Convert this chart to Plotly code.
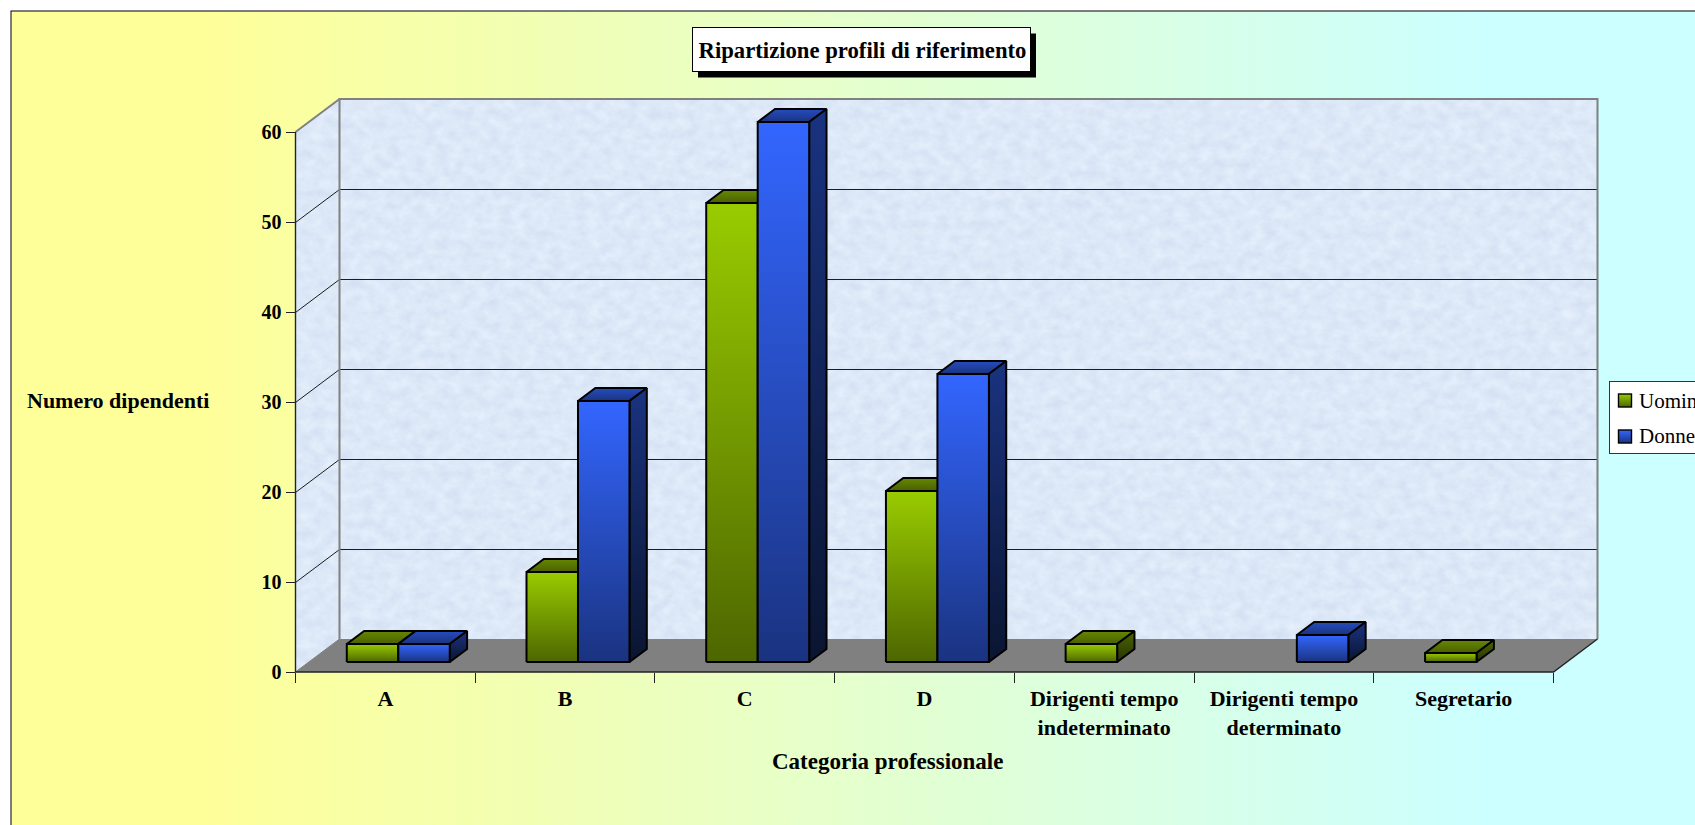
import base64
import plotly.graph_objects as go

# ---- data -------------------------------------------------------------
categories = ["A", "B", "C", "D", "Dirigenti tempo<br>indeterminato",
              "Dirigenti tempo<br>determinato", "Segretario"]
uomini = [2, 10, 51, 19, 2, None, 1]
donne = [2, 29, 60, 32, None, 3, None]
y_ticks = [0, 10, 20, 30, 40, 50, 60]
title_text = "Ripartizione profili di riferimento"
y_title = "Numero dipendenti"
x_title = "Categoria professionale"
series_names = ["Uomini", "Donne"]

# ---- page geometry (pixels) --------------------------------------------
W, H = 1695, 825
X0, X1 = 295.5, 1553.5      # front edge of the floor
Y0, Y60 = 672.0, 132.0      # value 0 / value 60 on the front axis
DPX, DPY = 44.0, 33.0       # depth of the box
N = len(categories)
CAT_PX = (X1 - X0) / N
VAL_PX = (Y0 - Y60) / 60.0
DX = DPX / CAT_PX           # depth expressed in axis units
DY = DPY / VAL_PX
XMAX = N + DX
YMAX = 60 + DY
GAP, BAR_W = 0.2112, 0.2865
D_FRONT, D_BACK = 0.303, 0.697


def px(v):
    return Y0 - v * VAL_PX


grid = ""
for v in y_ticks[1:-1]:
    y = px(v)
    grid += (f'<path d="M{X0},{y+0.5} L{X0+DPX},{y-DPY+0.5} L{X1+DPX},{y-DPY+0.5}" fill="none" '
             f'stroke="#1c1c1c" stroke-width="1"/>')

xl, xr, yb, yt = X0 + DPX, X1 + DPX, Y0 - DPY, px(60) - DPY
wall_clip = f"M{xl},{yb} L{xr},{yb} L{xr},{yt} L{xl},{yt} Z M{X0},{Y0} L{xl},{yb} L{xl},{yt} L{X0},{px(60)} Z"
TX0, TX1, TY0, TY1 = 692.5, 1030.5, 27.5, 71.5
LX, LY0, LY1 = 1609.5, 381.5, 453.5
svg = f'''<svg xmlns="http://www.w3.org/2000/svg" width="{W}" height="{H}" viewBox="0 0 {W} {H}">
<defs>
<linearGradient id="bg" gradientUnits="userSpaceOnUse" x1="200" y1="0" x2="1480" y2="0">
<stop offset="0" stop-color="#FFFF99"/><stop offset="1" stop-color="#CCFFFF"/></linearGradient>
<linearGradient id="g" x1="0" y1="0" x2="0" y2="1"><stop offset="0" stop-color="#99CC00"/><stop offset="1" stop-color="#4D6600"/></linearGradient>
<linearGradient id="b" x1="0" y1="0" x2="0" y2="1"><stop offset="0" stop-color="#3366FF"/><stop offset="1" stop-color="#1A3380"/></linearGradient>
<filter id="tex" x="0" y="0" width="100%" height="100%" color-interpolation-filters="sRGB">
<feTurbulence type="fractalNoise" baseFrequency="0.08 0.1" numOctaves="5" seed="7"/>
<feColorMatrix type="matrix" values="0.10 0 0 0 0.815  0.08 0 0 0 0.87  0.05 0 0 0 0.945  0 0 0 0 1"/>
</filter>
<clipPath id="wc"><path d="{wall_clip}"/></clipPath>
</defs>
<rect x="0" y="0" width="{W}" height="{H}" fill="#fff"/>
<rect x="11" y="11" width="{W+20}" height="{H+20}" fill="url(#bg)" stroke="#000" stroke-width="1"/>
<g clip-path="url(#wc)"><rect x="{X0}" y="{yt}" width="{xr-X0}" height="{Y0-yt}" fill="#DCE9F7" filter="url(#tex)"/></g>
<path d="M{X0},{Y0} L{X1},{Y0} L{xr},{yb} L{xl},{yb} Z" fill="#808080"/>
{grid}
<path d="M{xl},{yb} L{xl},{yt} L{xr},{yt} L{xr},{yb}" fill="none" stroke="#808080" stroke-width="2"/>
<path d="M{X0},{px(60)} L{xl},{yt}" fill="none" stroke="#808080" stroke-width="2"/>
<path d="M{X0},{Y0} L{xl},{yb}" fill="none" stroke="#808080" stroke-width="1"/>
<path d="M{X0},{px(60)} L{X0},{Y0} L{X1},{Y0} L{xr},{yb}" fill="none" stroke="#222" stroke-width="1.4"/>
<rect x="{TX0+5.5}" y="{TY0+6}" width="{TX1-TX0}" height="{TY1-TY0}" fill="#000"/>
<rect x="{TX0}" y="{TY0}" width="{TX1-TX0}" height="{TY1-TY0}" fill="#fff" stroke="#000" stroke-width="1"/>
<rect x="{LX}" y="{LY0}" width="200" height="{LY1-LY0}" fill="#fff" stroke="#333" stroke-width="1"/>
<rect x="1618.5" y="394" width="13" height="13" fill="url(#g)" stroke="#000" stroke-width="1.4"/>
<rect x="1618.5" y="430" width="13" height="13" fill="url(#b)" stroke="#000" stroke-width="1.4"/>
</svg>'''
svg_uri = "data:image/svg+xml;base64," + base64.b64encode(svg.encode()).decode()

# ---- bars: three faces each, projected through the axes ----------------
PALETTE = {
    "Uomini": {"front": ("#99CC00", "#4D6600"), "top": ("#668800", "#4A6000"), "side": ("#4D6600", "#263300")},
    "Donne": {"front": ("#3366FF", "#1A3380"), "top": ("#264DBF", "#1A3380"), "side": ("#1A3380", "#0A1530")},
}


def proj(x, v, d):
    return x + d * DX, v + d * DY


def face(points, cols, name):
    xs = [p[0] for p in points] + [points[0][0]]
    ys = [p[1] for p in points] + [points[0][1]]
    return go.Scatter(
        x=xs, y=ys, mode="lines", fill="toself", name=name, showlegend=False, hoverinfo="skip",
        line=dict(color="#000000", width=2),
        fillgradient=dict(type="vertical", start=max(ys), stop=min(ys),
                          colorscale=[[0, cols[0]], [1, cols[1]]]),
        xaxis="x", yaxis="y",
    )


traces = []
for i in range(N):
    for s, (name, vals) in enumerate(zip(series_names, (uomini, donne))):
        v = vals[i]
        if v is None:
            continue
        l = i + GAP + s * BAR_W
        r = l + BAR_W
        c = PALETTE[name]
        traces.append(face([proj(l, v, D_FRONT), proj(r, v, D_FRONT), proj(r, v, D_BACK), proj(l, v, D_BACK)], c["top"], name))
        traces.append(face([proj(r, 0, D_FRONT), proj(r, 0, D_BACK), proj(r, v, D_BACK), proj(r, v, D_FRONT)], c["side"], name))
        traces.append(face([proj(l, 0, D_FRONT), proj(r, 0, D_FRONT), proj(r, v, D_FRONT), proj(l, v, D_FRONT)], c["front"], name))

fig = go.Figure(traces)
FONT = "Liberation Serif"
fig.update_layout(
    width=W, height=H, margin=dict(l=0, r=0, t=0, b=0, autoexpand=False),
    paper_bgcolor="#ffffff", plot_bgcolor="rgba(0,0,0,0)", showlegend=False, hovermode=False,
    font=dict(family=FONT, size=20, color="#000000"),
    title=dict(text=f"<b>{title_text}</b>", x=862.5 / W, xanchor="center", y=1 - 50.5 / H, yanchor="middle",
               font=dict(family=FONT, size=22.7)),
    images=[dict(source=svg_uri, xref="paper", yref="paper", x=0, y=1, sizex=1, sizey=1,
                 xanchor="left", yanchor="top", sizing="stretch", layer="below")],
    xaxis=dict(domain=[X0 / W, (X1 + DPX) / W], range=[0, XMAX], showgrid=False, zeroline=False, showline=False,
               tickmode="array", tickvals=[i + 0.5 for i in range(N)], ticktext=[f"<b>{c}</b>".replace("<br>", "</b><br><b>") for c in categories],
               ticks="", tickangle=0, ticklabelstandoff=11, tickfont=dict(family=FONT, size=22),
               minor=dict(tickmode="array", tickvals=list(range(N + 1)), ticks="outside", ticklen=10, tickcolor="#222", tickwidth=1.2, showgrid=False)),
    yaxis=dict(domain=[1 - Y0 / H, 1 - (Y60 - DPY) / H], range=[0, YMAX], showgrid=False, zeroline=False, showline=False,
               tickmode="array", tickvals=y_ticks, ticktext=[f"<b>{v}</b>" for v in y_ticks],
               ticks="outside", ticklen=9, tickcolor="#222", tickwidth=1.2, tickfont=dict(family=FONT, size=20)),
    annotations=[
        dict(text=f"<b>{y_title}</b>", xref="paper", yref="paper", x=117.5 / W, y=1 - 400 / H, showarrow=False, font=dict(family=FONT, size=22), xanchor="center", yanchor="middle"),
        dict(text=f"<b>{x_title}</b>", xref="paper", yref="paper", x=887.5 / W, y=1 - 761 / H, showarrow=False, font=dict(family=FONT, size=23), xanchor="center", yanchor="middle"),
        dict(text=series_names[0], xref="paper", yref="paper", x=1636.5 / W, y=1 - 400.5 / H, showarrow=False, font=dict(family=FONT, size=21), xanchor="left", yanchor="middle"),
        dict(text=series_names[1], xref="paper", yref="paper", x=1636.5 / W, y=1 - 436.5 / H, showarrow=False, font=dict(family=FONT, size=21), xanchor="left", yanchor="middle"),
    ],
)
fig.write_html("out.html", config={"displayModeBar": False},
               post_script="document.body.style.margin='0';document.body.style.overflow='hidden';")
